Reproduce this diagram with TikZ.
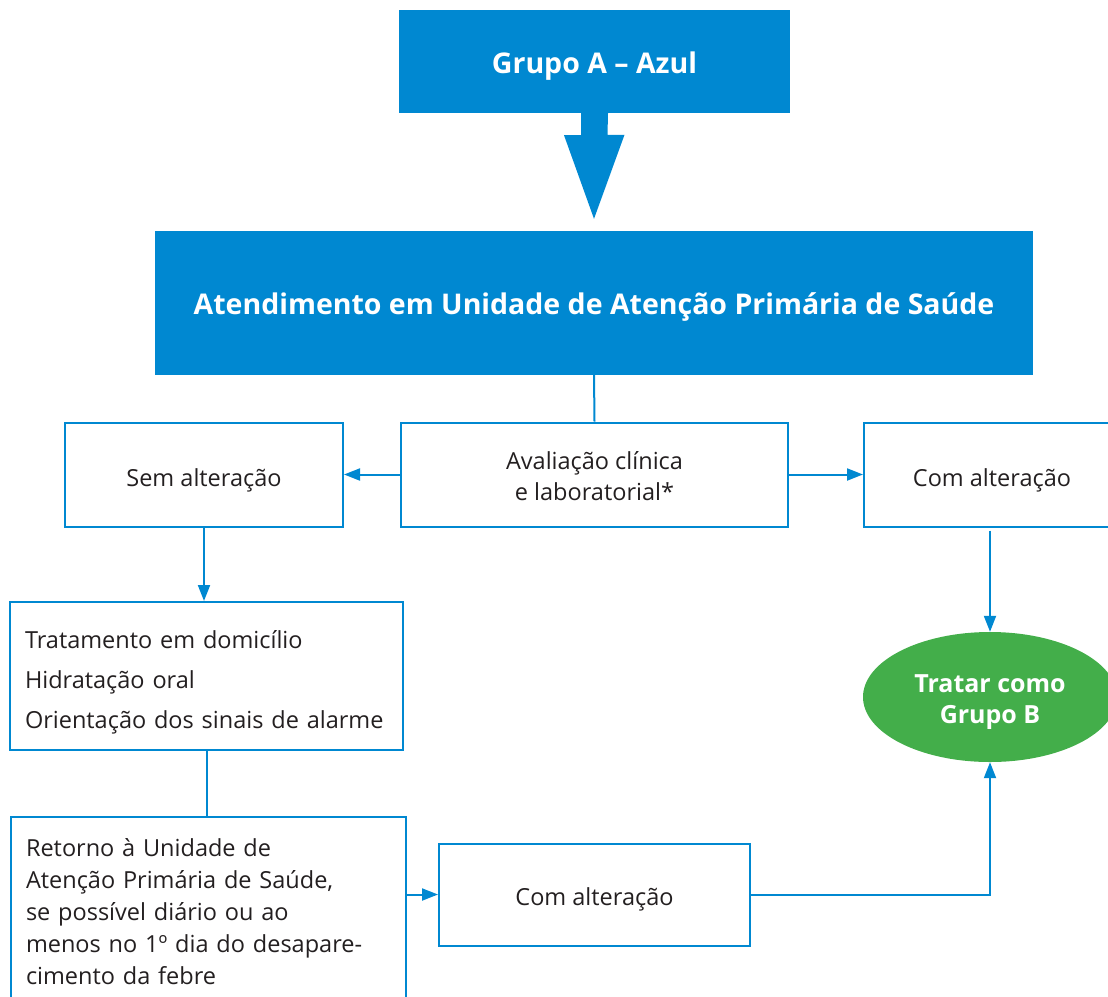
\documentclass[tikz,border=0pt]{standalone}
\usepackage{fontspec}
\setmainfont{Open Sans}
\usetikzlibrary{arrows.meta,shapes.geometric}

\definecolor{azul}{RGB}{0,136,209}
\definecolor{verde}{RGB}{67,174,74}
\definecolor{texto}{RGB}{35,31,32}

\tikzset{
    caixa/.style={draw=azul, line width=2pt, text=texto, align=center,
        inner sep=0pt, text depth=0pt, font=\fontsize{23.5}{31}\selectfont},
    lista/.style={caixa, align=left, inner xsep=15pt, text height=0pt},
    titulo/.style={fill=azul, text=white, inner sep=0pt, text depth=0pt,
        font=\bfseries\fontsize{28.5}{34}\selectfont},
    oval/.style={ellipse, fill=verde, text=white, align=center, inner sep=0pt,
        text depth=0pt, font=\bfseries\fontsize{25}{31}\selectfont},
    seta/.style={draw=azul, line width=2pt, -{Triangle[length=16pt,width=12pt]}},
    liga/.style={draw=azul, line width=2pt}
}

\begin{document}
\begin{tikzpicture}[x=1pt, y=-1pt]
    \useasboundingbox (0,0) rectangle (1108,996);
    \clip (0,0) rectangle (1108,996);

    % blocos principais
    \node[titulo, minimum width=391pt, minimum height=103pt, text height=24pt] (grupoA) at (594.5,61.5)
        {Grupo A – Azul};
    \node[titulo, minimum width=878pt, minimum height=144pt, text height=22pt] (atend) at (594,303)
        {Atendimento em Unidade de Atenção Primária de Saúde};

    % seta larga
    \fill[azul] ([xshift=-13.5pt]grupoA.south) -- ++(0,22) -- ++(-17,0)
        -- ([yshift=12pt]atend.north) -- ++(30.5,-84) -- ++(-17,0)
        -- ([xshift=13.5pt]grupoA.south) -- cycle;

    \node[caixa, minimum width=387pt, minimum height=104pt, text height=51pt] (aval) at (594.5,474.5)
        {Avaliação clínica\\e laboratorial*};
    \node[caixa, minimum width=278pt, minimum height=104pt, text height=23pt] (sem) at (204,474.5)
        {Sem alteração};
    \node[caixa, minimum width=256pt, minimum height=104pt, text height=23pt] (com) at (992,474.5)
        {Com alteração};

    \node[lista, text width=363pt, minimum height=148pt, text depth=56pt,
        font=\fontsize{23.5}{40}\selectfont] (trat) at (206.5,676)
        {Tratamento em domicílio\\Hidratação oral\\Orientação dos sinais de alarme};
    \node[lista, text width=365pt, minimum height=200pt, text depth=122pt,
        font=\fontsize{23.5}{32}\selectfont, anchor=north west] (retorno) at (10,816)
        {Retorno à Unidade de\\Atenção Primária de Saúde,\\se possível diário ou ao\\menos no 1º dia do desapare-\\cimento da febre};
    \node[caixa, minimum width=311pt, minimum height=102pt, text height=21pt] (com2) at (594.5,894.5)
        {Com alteração};

    \node[oval, minimum width=254pt, minimum height=130pt, text height=52pt] (grupoB) at (990,697)
        {Tratar como\\Grupo B};

    % ligacoes
    \draw[liga] (atend.south) -- (aval.north);
    \draw[seta] (aval.west) -- (sem.east);
    \draw[seta] (aval.east) -- (com.west);
    \draw[seta] (sem.south) -- (sem.south |- trat.north);
    \draw[liga] (trat.south) -- (trat.south |- retorno.north);
    \draw[seta] (com2.west -| retorno.east) -- (com2.west);
    \draw[seta] ([yshift=-3pt]grupoB.north |- com.south) -- (grupoB.north);
    \draw[seta] (com2.east) -| (grupoB.south);
\end{tikzpicture}
\end{document}
